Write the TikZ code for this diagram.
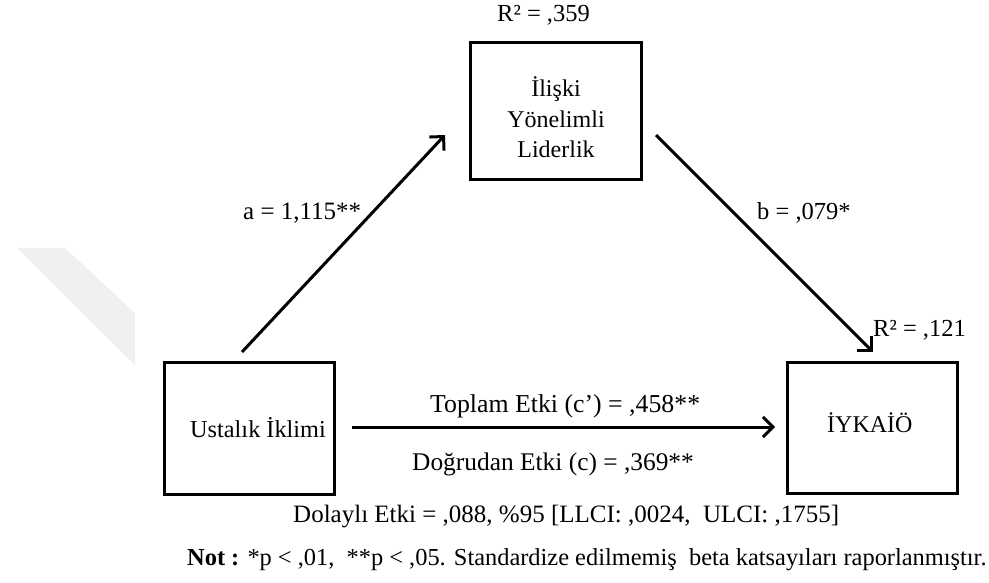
\documentclass[tikz,border=0pt]{standalone}
\usepackage{fontspec}
\setmainfont{Liberation Serif}
\usetikzlibrary{arrows.meta}
\begin{document}
\begin{tikzpicture}[x=1pt,y=-1pt,
  varbox/.style={draw=black, line width=3pt, minimum width=#1, inner sep=0pt},
  txt/.style={inner sep=0pt, anchor=base west, font=\fontsize{25}{30.5}\selectfont},
  path/.style={line width=3pt, -{Straight Barb[length=10pt,width=20pt,line width=3pt]}}]
  \useasboundingbox (0,0) rectangle (989,583);
  % faint background band on the left
  \fill[black!6] (17,248) -- (65,248) -- (135,313) -- (135,365) -- cycle;

  % variable boxes
  \node[varbox=171pt, minimum height=137pt] (ilr) at (555.5,111.5) {};
  \node[varbox=170pt, minimum height=132pt] (ust) at (249,428) {};
  \node[varbox=170pt, minimum height=131pt] (iyk) at (872,427.5) {};

  % box texts (base anchor of a multi-line node sits on its last line)
  \node[txt, anchor=base, align=center, font=\fontsize{24}{30.5}\selectfont] (ilrtxt) at (556,158) {İlişki\\Yönelimli\\Liderlik};
  \node[txt, font=\fontsize{24.3}{30}\selectfont] (usttxt) at (190,437) {Ustalık İklimi};
  \node[txt, font=\fontsize{24}{30}\selectfont] (iyktxt) at (827,432) {İYKAİÖ};

  % connector end points
  \coordinate (a0) at (242,352);
  \coordinate (a1) at (445,135);
  \coordinate (b0) at (656,135);
  \coordinate (b1) at (873,352);
  \coordinate (c0) at (352,427);
  \coordinate (c1) at (775,427);

  \draw[path] (a0) -- (a1);
  \draw[path] (b0) -- (b1);
  \draw[path] (c0) -- (c1);

  % coefficients
  \node[txt, font=\fontsize{24.5}{30}\selectfont] (r1) at (497,22) {R² = ,359};
  \node[txt] (pa) at (243,220) {a = 1,115**};
  \node[txt, font=\fontsize{24.5}{30}\selectfont] (pb) at (757,220) {b = ,079*};
  \node[txt, font=\fontsize{24.5}{30}\selectfont] (r2) at (873,336) {R² = ,121};
  \node[txt, font=\fontsize{25.8}{30}\selectfont] (tot) at (430,412) {Toplam Etki (c’) = ,458**};
  \node[txt, font=\fontsize{25.4}{30}\selectfont] (dir) at (412,470) {Doğrudan Etki (c) = ,369**};
  \node[txt, font=\fontsize{25}{30}\selectfont] (ind) at (293,522) {Dolaylı Etki = ,088, \%95 [LLCI: ,0024, \ ULCI: ,1755]};
  \node[txt, font=\fontsize{24.4}{30}\selectfont] (note) at (187,565) {\textbf{Not :} *p < ,01, \ **p < ,05. Standardize edilmemiş \ beta katsayıları raporlanmıştır.};
\end{tikzpicture}
\end{document}
